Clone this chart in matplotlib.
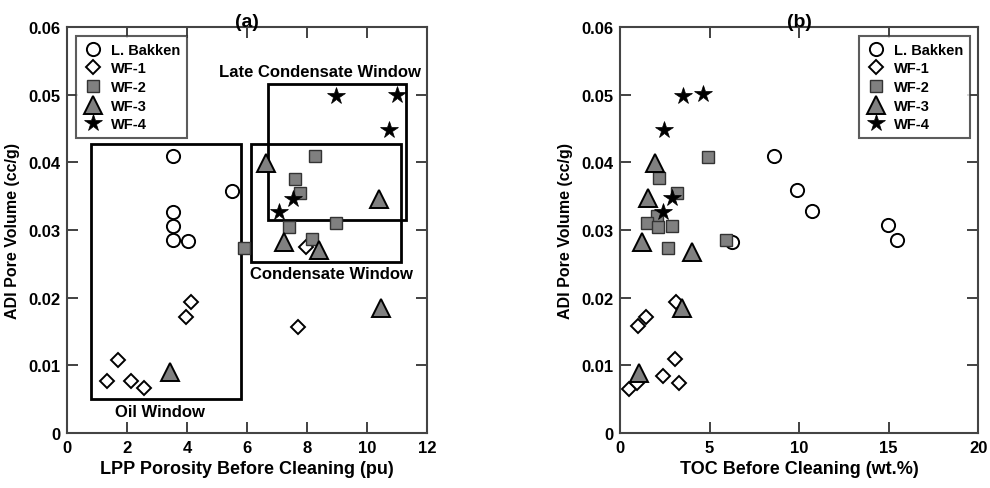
import matplotlib
matplotlib.use("Agg")
import matplotlib.pyplot as plt
from matplotlib.patches import Rectangle
from matplotlib.ticker import FixedLocator, FixedFormatter

plt.rcParams['font.family'] = ['Liberation Sans', 'DejaVu Sans']
plt.rcParams['font.weight'] = 'bold'

# (a) LPP porosity before cleaning vs ADI pore volume
bakken_a_x = [3.52, 5.51, 3.52, 3.52, 3.52, 4.03]
bakken_a_y = [0.0410, 0.0358, 0.0327, 0.0306, 0.0285, 0.0284]
wf1_a_x = [1.33, 1.69, 2.14, 2.55, 3.95, 4.14, 7.69, 7.97]
wf1_a_y = [0.0076, 0.0108, 0.0076, 0.0066, 0.0172, 0.0193, 0.0157, 0.0275]
wf2_a_x = [8.28, 7.59, 7.78, 8.97, 7.41, 8.17, 5.91]
wf2_a_y = [0.0409, 0.0376, 0.0355, 0.0310, 0.0305, 0.0287, 0.0274]
wf3_a_x = [6.63, 10.39, 7.22, 8.41, 10.47, 3.44]
wf3_a_y = [0.0399, 0.0346, 0.0282, 0.0270, 0.0185, 0.0090]
wf4_a_x = [8.98, 11.0, 10.75, 7.52, 7.06]
wf4_a_y = [0.0498, 0.0500, 0.0448, 0.0346, 0.0327]

# (b) TOC before cleaning vs ADI pore volume
bakken_b_x = [8.59, 9.86, 10.73, 14.97, 15.47, 6.24]
bakken_b_y = [0.0410, 0.0359, 0.0328, 0.0308, 0.0286, 0.0283]
wf1_b_x = [0.52, 0.97, 1.02, 1.45, 2.42, 3.07, 3.29, 3.13]
wf1_b_y = [0.0065, 0.0074, 0.0158, 0.0171, 0.0084, 0.0109, 0.0074, 0.0194]
wf2_b_x = [4.89, 2.19, 3.16, 2.05, 1.49, 2.14, 2.92, 2.70, 5.92]
wf2_b_y = [0.0408, 0.0377, 0.0355, 0.0321, 0.0310, 0.0304, 0.0306, 0.0273, 0.0285]
wf3_b_x = [1.95, 1.58, 1.21, 4.00, 3.44, 1.06]
wf3_b_y = [0.0399, 0.0347, 0.0282, 0.0268, 0.0184, 0.0089]
wf4_b_x = [3.53, 4.65, 2.47, 2.88, 2.38]
wf4_b_y = [0.0498, 0.0501, 0.0448, 0.0347, 0.0326]

series_names = ['L. Bakken', 'WF-1', 'WF-2', 'WF-3', 'WF-4']

# maturity windows on panel (a): name, x0, x1, y0, y1, label x, label y
windows = [
    ('Oil Window', 0.8, 5.81, 0.0050, 0.0427, 3.11, 0.0032),
    ('Condensate Window', 6.13, 11.13, 0.0252, 0.0427, 8.83, 0.0235),
    ('Late Condensate Window', 6.7, 11.31, 0.0315, 0.0516, 8.44, 0.0534),
]

y_ticks = [0, 0.01, 0.02, 0.03, 0.04, 0.05, 0.06]
y_tick_labels = ['0', '0.01', '0.02', '0.03', '0.04', '0.05', '0.06']
x_ticks_a = [0, 2, 4, 6, 8, 10, 12]
x_ticks_b = [0, 5, 10, 15, 20]

GRAY = '#808080'
styles = [
    dict(marker='o', markersize=9.5, markerfacecolor='white', markeredgecolor='black', markeredgewidth=1.4),
    dict(marker='D', markersize=7, markerfacecolor='white', markeredgecolor='black', markeredgewidth=1.4),
    dict(marker='s', markersize=8.5, markerfacecolor=GRAY, markeredgecolor='#333333', markeredgewidth=1.0),
    dict(marker='^', markersize=12.5, markerfacecolor=GRAY, markeredgecolor='black', markeredgewidth=1.4),
    dict(marker='*', markersize=13, markerfacecolor='black', markeredgecolor='black', markeredgewidth=0.5),
]


def style_axes(ax, xticks, xlim, xlabel, title):
    ax.set_xlim(*xlim)
    ax.set_ylim(0, 0.06)
    ax.xaxis.set_major_locator(FixedLocator(xticks))
    ax.yaxis.set_major_locator(FixedLocator(y_ticks))
    ax.yaxis.set_major_formatter(FixedFormatter(y_tick_labels))
    ax.tick_params(direction='in', length=8, width=1.3, top=True, right=True,
                   labelsize=12, pad=5, color='#333333')
    for sp in ax.spines.values():
        sp.set_linewidth(1.5)
        sp.set_color('#444444')
    ax.set_xlabel(xlabel, fontsize=13, fontweight='bold', labelpad=4)
    ax.set_ylabel('ADI Pore Volume (cc/g)', fontsize=11.5, fontweight='bold', labelpad=6)
    ax.set_title(title, fontsize=14, fontweight='bold', pad=1)


def draw_series(ax, xs, ys, legend_loc):
    for x, y, name, st in zip(xs, ys, series_names, styles):
        ax.plot(x, y, linestyle='none', label=name, **st)
    leg = ax.legend(loc=legend_loc, fontsize=10.5, frameon=True, fancybox=False,
                    handletextpad=0.45, labelspacing=0.32, borderpad=0.45,
                    handlelength=1.5, borderaxespad=0.6)
    leg.get_frame().set_edgecolor('#333333')
    leg.get_frame().set_linewidth(1.5)
    for t in leg.get_texts():
        t.set_fontweight('bold')


fig = plt.figure(figsize=(9.9, 4.89), dpi=100)
ax_a = fig.add_axes([0.0677, 0.1129, 0.3636, 0.8292])
ax_b = fig.add_axes([0.6263, 0.1129, 0.3619, 0.8292])

for name, x0, x1, y0, y1, lx, ly in windows:
    ax_a.add_patch(Rectangle((x0, y0), x1 - x0, y1 - y0, fill=False,
                             edgecolor='black', linewidth=2, zorder=1))
    ax_a.text(lx, ly, name, fontsize=12, fontweight='bold', ha='center', va='center')

draw_series(ax_a,
            [bakken_a_x, wf1_a_x, wf2_a_x, wf3_a_x, wf4_a_x],
            [bakken_a_y, wf1_a_y, wf2_a_y, wf3_a_y, wf4_a_y],
            'upper left')
style_axes(ax_a, x_ticks_a, (0, 12), 'LPP Porosity Before Cleaning (pu)', '(a)')

draw_series(ax_b,
            [bakken_b_x, wf1_b_x, wf2_b_x, wf3_b_x, wf4_b_x],
            [bakken_b_y, wf1_b_y, wf2_b_y, wf3_b_y, wf4_b_y],
            'upper right')
style_axes(ax_b, x_ticks_b, (0, 20), 'TOC Before Cleaning (wt.%)', '(b)')

fig.savefig('out.png', dpi=100)
